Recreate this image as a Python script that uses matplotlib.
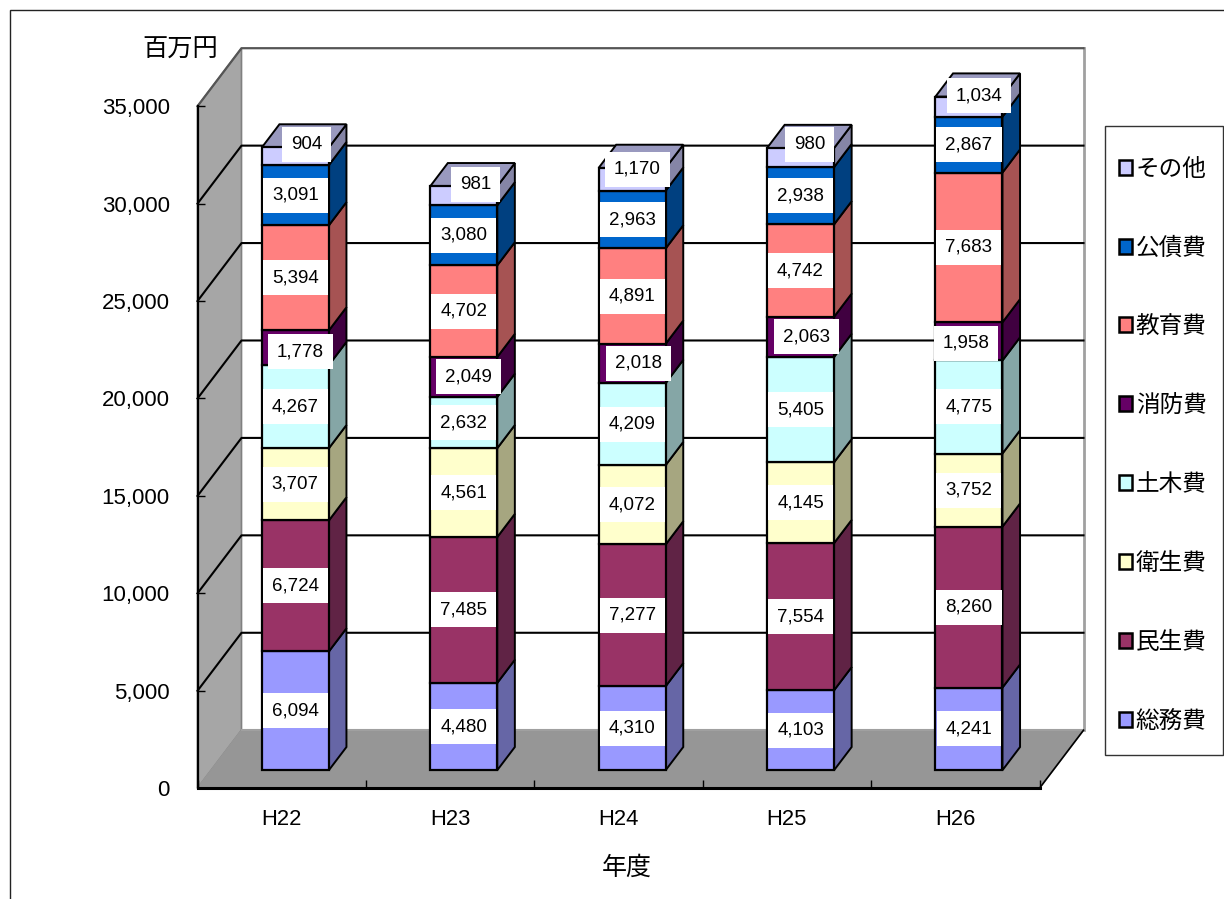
import matplotlib
matplotlib.use('Agg')
import matplotlib.pyplot as plt
from matplotlib.patches import Patch, Polygon, Rectangle
from matplotlib.ticker import FuncFormatter
import numpy as np

years = ['H22', 'H23', 'H24', 'H25', 'H26']
categories = ['総務費', '民生費', '衛生費', '土木費', '消防費', '教育費', '公債費', 'その他']

soumu = [6094, 4480, 4310, 4103, 4241]
minsei = [6724, 7485, 7277, 7554, 8260]
eisei = [3707, 4561, 4072, 4145, 3752]
doboku = [4267, 2632, 4209, 5405, 4775]
shobo = [1778, 2049, 2018, 2063, 1958]
kyoiku = [5394, 4702, 4891, 4742, 7683]
kosai = [3091, 3080, 2963, 2938, 2867]
sonota = [904, 981, 1170, 980, 1034]

front_colors = ['#9999FF', '#993366', '#FFFFCC', '#CCFFFF', '#660066', '#FF8080', '#0066CC', '#CCCCFF']
side_colors = ['#6666A6', '#602345', '#A6A680', '#85A6A6', '#400040', '#A65353', '#004080', '#8585A6']
top_color = '#9999BF'

W, H = 1224, 899
LATIN = 'Liberation Sans'
CJK = 'Noto Sans CJK JP'

# pseudo 3D: depth 1 is the back wall, expressed in data units
X0, X1, Y0, Y1 = 197.5, 1039.5, 788.2, 106.2
YMAX = 35000
DX = 44 / (X1 - X0) * len(years)
DY = 58 / (Y0 - Y1) * YMAX
BAR_D0, BAR_D1 = 0.31, 0.71
BAR_W = 0.398

# hand placed labels, in pixels
shobo_shift = [(5, -4), (5, 0), (6, 0), (6, 0), (-3, -2)]
sonota_shift = [(11, 12), (12, 11), (5, 10), (9, 13), (10, 11)]


def fig_x(px):
    return px / W


def fig_y(py):
    return 1 - py / H


def draw_walls(ax):
    n = len(years)
    ax.add_patch(Polygon([(0, YMAX), (DX, YMAX + DY), (n + DX, YMAX + DY), (n + DX, DY), (DX, DY)],
                         fc='white', ec='none', zorder=1, clip_on=False))
    ax.add_patch(Polygon([(0, 0), (DX, DY), (DX, YMAX + DY), (0, YMAX)],
                         fc='#A6A6A6', ec='#808080', lw=1.2, zorder=1.1, clip_on=False))
    ax.add_patch(Polygon([(0, 0), (DX, DY), (n + DX, DY), (n, 0)],
                         fc='#969696', ec='#969696', lw=1.2, zorder=1.1, clip_on=False))
    # wall outline
    ax.plot([DX, n + DX], [DY, DY], color='#A0A0A0', lw=1.5, zorder=1.2, clip_on=False)
    ax.plot([n + DX, n + DX], [DY, YMAX + DY], color='#A0A0A0', lw=2, zorder=1.2, clip_on=False)
    ax.plot([0, DX, n + DX], [YMAX, YMAX + DY, YMAX + DY], color='#555555', lw=1.6, zorder=1.3, clip_on=False)
    ax.plot([n, n + DX], [0, DY], color='black', lw=1.2, zorder=1.3, clip_on=False)

    for v in range(5000, YMAX, 5000):
        ax.plot([0, DX, n + DX], [v, v + DY, v + DY], color='black', lw=1.5, zorder=1.5, clip_on=False)


def draw_bars(ax, stacks):
    totals = np.zeros(len(years))
    for k, values in enumerate(stacks):
        values = np.array(values, dtype=float)
        for i, val in enumerate(values):
            x = i + 0.5 + BAR_D0 * DX - BAR_W / 2
            base = totals[i] + BAR_D0 * DY
            depth_x = (BAR_D1 - BAR_D0) * DX
            depth_y = (BAR_D1 - BAR_D0) * DY
            xr = x + BAR_W
            ax.add_patch(Polygon([(xr, base), (xr + depth_x, base + depth_y),
                                  (xr + depth_x, base + depth_y + val), (xr, base + val)],
                                 fc=side_colors[k], ec='black', lw=1.4, zorder=3,
                                 joinstyle='miter', clip_on=False))
            if k == len(stacks) - 1:
                top = base + val
                ax.add_patch(Polygon([(x, top), (xr, top), (xr + depth_x, top + depth_y),
                                      (x + depth_x, top + depth_y)],
                                     fc=top_color, ec='black', lw=1.4, zorder=3,
                                     joinstyle='miter', clip_on=False))
        ax.bar(np.arange(len(years)) + 0.5 + BAR_D0 * DX, values, BAR_W,
               bottom=totals + BAR_D0 * DY, color=front_colors[k], edgecolor='black',
               linewidth=1.6, zorder=3.2, clip_on=False)
        totals += values


def draw_labels(ax, stacks):
    totals = np.zeros(len(years))
    for k, values in enumerate(stacks):
        for i, val in enumerate(values):
            shift = (0, 0)
            if categories[k] == '消防費':
                shift = shobo_shift[i]
            elif categories[k] == 'その他':
                shift = sonota_shift[i]
            ax.annotate(f'{val:,}', (i + 0.5 + BAR_D0 * DX, totals[i] + BAR_D0 * DY + val / 2),
                        xytext=shift, textcoords='offset pixels', ha='center', va='center',
                        family=LATIN, fontsize=13.5, color='black', zorder=6, annotation_clip=False,
                        bbox=dict(boxstyle='square,pad=0.48', fc='white', ec='none'))
            totals[i] += val


def main():
    fig = plt.figure(figsize=(W / 100, H / 100), dpi=100)
    fig.patches.append(Rectangle((fig_x(9.5), fig_y(H + 10)), (W + 10) / W, (H) / H,
                                 transform=fig.transFigure, fc='none', ec='#222222', lw=1))
    ax = fig.add_axes([fig_x(X0), fig_y(Y0), (X1 - X0) / W, (Y0 - Y1) / H])
    ax.patch.set_visible(False)

    stacks = [soumu, minsei, eisei, doboku, shobo, kyoiku, kosai, sonota]
    draw_walls(ax)
    draw_bars(ax, stacks)
    draw_labels(ax, stacks)

    ax.set_xlim(0, len(years))
    ax.set_ylim(0, YMAX)
    for side in ['top', 'right']:
        ax.spines[side].set_visible(False)
    ax.spines['left'].set_linewidth(1.6)
    ax.spines['bottom'].set_linewidth(2.2)

    ax.set_yticks(np.arange(0, YMAX + 1, 5000))
    ax.yaxis.set_major_formatter(FuncFormatter(lambda v, _: f'{int(v):,}'))
    ax.tick_params(axis='y', direction='in', length=5, width=1, pad=20, labelsize=16)
    ax.set_xticks(np.arange(len(years) + 1))
    ax.set_xticklabels([])
    ax.set_xticks(np.arange(len(years)) + 0.5, labels=years, minor=True)
    ax.tick_params(axis='x', which='major', direction='in', length=6, width=1)
    ax.tick_params(axis='x', which='minor', length=0, pad=15, labelsize=15.8)
    for t in ax.get_xticklabels(minor=True) + ax.get_yticklabels():
        t.set_family(LATIN)

    fig.text(fig_x(180), fig_y(50), '百万円', family=CJK, fontsize=18.2, ha='center', va='center')
    fig.text(fig_x(627), fig_y(868), '年度', family=CJK, fontsize=18, ha='center', va='center')

    # legend frame is drawn separately so that it can be taller than its padding allows
    fig.patches.append(Rectangle((fig_x(1105), fig_y(755)), 118 / W, 629 / H,
                                 transform=fig.transFigure, fc='white', ec='#333333', lw=1))
    handles = [Patch(fc=c, ec='black', lw=1.8) for c in front_colors[::-1]]
    fig.legend(handles, categories[::-1], loc='center left', frameon=False,
               bbox_to_anchor=(fig_x(1105), fig_y(445)), borderaxespad=0, borderpad=0.6,
               prop={'family': CJK, 'size': 17}, labelspacing=2.365,
               handlelength=0.55, handleheight=0.6, handletextpad=0.15)

    fig.savefig('out.png', dpi=100)


if __name__ == '__main__':
    main()
